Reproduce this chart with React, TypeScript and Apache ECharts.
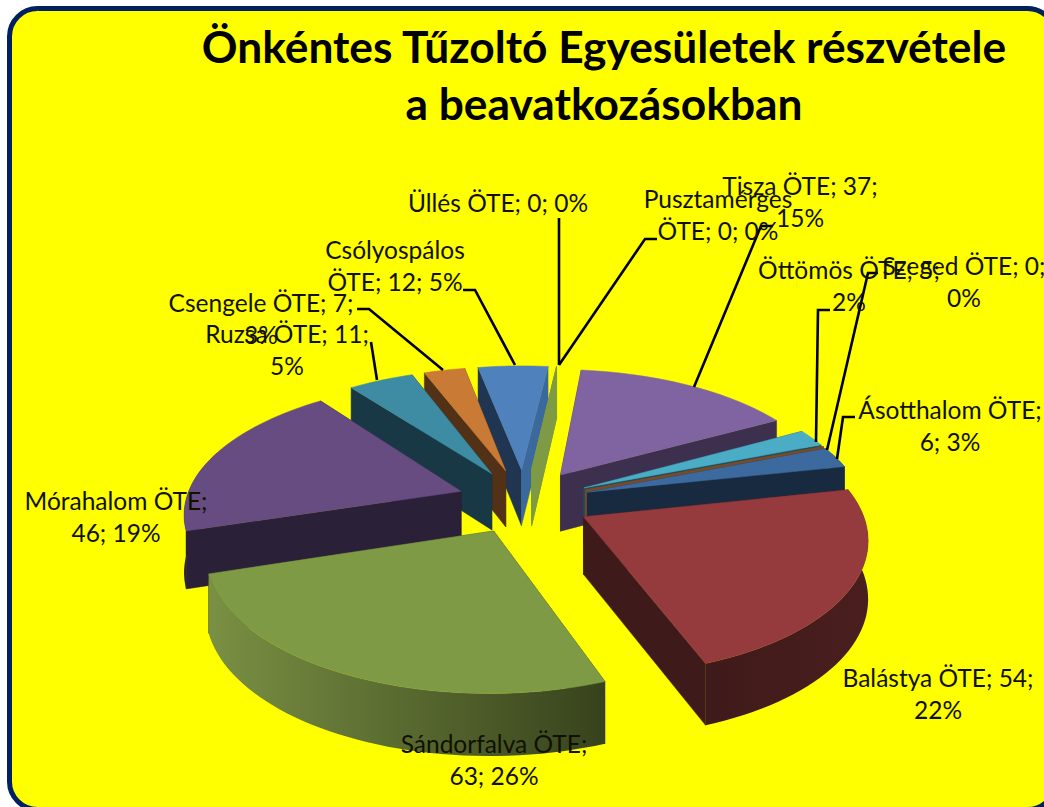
import React, { useEffect, useRef } from "react";
import * as echarts from "echarts";

const categories = ["Tisza ÖTE", "Öttömös ÖTE", "Szeged ÖTE", "Ásotthalom ÖTE", "Balástya ÖTE", "Sándorfalva ÖTE", "Mórahalom ÖTE", "Ruzsa ÖTE", "Csengele ÖTE", "Csólyospálos ÖTE", "Üllés ÖTE", "Pusztamérges ÖTE"];
const values = [37, 5, 0, 6, 54, 63, 46, 11, 7, 12, 0, 0];
const titleText = "Önkéntes Tűzoltó Egyesületek részvétele\na beavatkozásokban";
const labelTexts = [
  "Tisza ÖTE; 37;\n15%",
  "Öttömös ÖTE; 5;\n2%",
  "Szeged ÖTE; 0;\n0%",
  "Ásotthalom ÖTE;\n6; 3%",
  "Balástya ÖTE; 54;\n22%",
  "Sándorfalva ÖTE;\n63; 26%",
  "Mórahalom ÖTE;\n46; 19%",
  "Ruzsa ÖTE; 11;\n5%",
  "Csengele ÖTE; 7;\n3%",
  "Csólyospálos\nÖTE; 12; 5%",
  "Üllés ÖTE; 0; 0%",
  "Pusztamérges\nÖTE; 0; 0%",
];

const labelCx = [800, 849, 964, 950, 938, 494, 116, 287, 261, 395, 498, 718];
const labelCy = [201, 285, 281, 425, 693, 759, 516, 349, 318, 265, 202, 214];
const leaders: number[][][] = [
  [[773, 226], [761, 226], [694, 387]],
  [[830, 310], [818, 310], [816, 442]],
  [[878, 273], [868, 273], [827, 450]],
  [[855, 417], [843, 417], [837, 459]],
  [],
  [],
  [],
  [[371, 342], [377, 380]],
  [[357, 309], [369, 309], [443, 370]],
  [[463, 290], [475, 290], [515, 365]],
  [[559, 218], [559, 365]],
  [[657, 239], [645, 239], [559, 365]],
];

const topColors = ["#8064A2", "#4BACC6", "#7F4A22", "#3C6A9F", "#953B3D", "#7F9A45", "#664C80", "#3D8CA3", "#C97A35", "#4F81BD", "#7F9A45", "#7F9A45"];
const startWall = ["#3D2F4E", "#1E4F5E", "#7F4A22", "#172A40", "#3F1A1A", "#37421C", "#2A2038", "#173844", "#523116", "#1F3552", "#7F9A45", "#7F9A45"];
const endWall = ["#3D2F4E", "#1E4F5E", "#7F4A22", "#172A40", "#3F1A1A", "#37421C", "#2A2038", "#173844", "#523116", "#3B689D", "#7F9A45", "#7F9A45"];
// left and right colour of each slice's outer wall
const rimStops = [
  ["#3D2F4E", "#3D2F4E"], ["#1E4F5E", "#1E4F5E"], ["#7F4A22", "#7F4A22"], ["#172A40", "#172A40"],
  ["#3F1A1A", "#4A1E1E"], ["#7A9043", "#37421C"], ["#2A2038", "#2A2038"], ["#173844", "#173844"],
  ["#523116", "#523116"], ["#1F3552", "#3B689D"], ["#7F9A45", "#7F9A45"], ["#7F9A45", "#7F9A45"],
];

const START_DEG = 6.7;
const CX = 524;
const CY = 501;
const RX = 275.5;
const RY = 133.7;
const PERSP = 0.15;
const EXPLODE = 0.242;
const H = 57;
const RIM_FROM = 72;
const RIM_TO = 288;

const total = values.reduce((a, b) => a + b, 0);
const starts: number[] = [];
values.reduce((acc, v, i) => {
  starts[i] = acc;
  return acc + (v / total) * 360;
}, START_DEG);

const rad = (d: number) => (d * Math.PI) / 180;
const project = (X: number, Y: number, drop = 0): number[] => {
  const s = 1 + PERSP * Y;
  return [CX + RX * X * s, CY + RY * Y * s + drop * H * (1 + 0.08 * Y)];
};

const midY = (i: number) => {
  const mid = starts[i] + ((values[i] / total) * 360) / 2;
  return -Math.cos(rad(mid));
};
const ranks: number[] = [];
values
  .map((_, i) => i)
  .sort((a, b) => midY(a) - midY(b))
  .forEach((idx, r) => {
    ranks[idx] = r;
  });

function renderSlice(params: any, api: any) {
  const i = params.dataIndex;
  const v = api.value(0) as number;
  const sweep = (v / total) * 360;
  const a0 = starts[i];
  const a1 = a0 + sweep;
  const mid = a0 + sweep / 2;
  const ox = Math.sin(rad(mid)) * EXPLODE;
  const oy = -Math.cos(rad(mid)) * EXPLODE;
  const rim = (a: number, drop: number) => project(ox + Math.sin(rad(a)), oy - Math.cos(rad(a)), drop);
  const apex = (drop: number) => project(ox, oy, drop);
  const base = ranks[i] * 10 + 10;
  const wall = (a: number, fill: string, k: number) => ({
    type: "polygon",
    z2: base + k,
    shape: { points: [apex(0), rim(a, 0), rim(a, 1), apex(1)] },
    style: { fill, stroke: fill, lineWidth: 0.5 },
  });
  const children: any[] = [wall(a0, startWall[i], 0), wall(a1, endWall[i], 1)];
  if (v > 0) {
    const n = Math.max(4, Math.ceil(sweep / 2));
    const topArc: number[][] = [];
    for (let k = 0; k <= n; k++) {
      topArc.push(rim(a0 + (sweep * k) / n, 0));
    }
    const r0 = Math.max(a0, RIM_FROM);
    const r1 = Math.min(a1, RIM_TO);
    if (r1 > r0) {
      const m = Math.max(4, Math.ceil((r1 - r0) / 2));
      const t: number[][] = [];
      const b: number[][] = [];
      for (let k = 0; k <= m; k++) {
        const a = r0 + ((r1 - r0) * k) / m;
        t.push(rim(a, 0));
        b.push(rim(a, 1));
      }
      const [cL, cR] = rimStops[i];
      children.push({
        type: "polygon",
        z2: base + 2,
        shape: { points: [...t, ...b.reverse()] },
        style: {
          fill: new echarts.graphic.LinearGradient(0, 0, 1, 0, [
            { offset: 0, color: cL },
            { offset: 1, color: cR },
          ]),
          stroke: "none",
        },
      });
    }
    children.push({
      type: "polygon",
      z2: base + 3,
      shape: { points: [apex(0), ...topArc] },
      style: { fill: topColors[i], stroke: topColors[i], lineWidth: 0.5 },
    });
  }
  return { type: "group", children };
}

export default function App() {
  const ref = useRef<HTMLDivElement>(null);
  useEffect(() => {
    const chart = echarts.init(ref.current!, null, { renderer: "svg" });
    const font = "Lato";
    const graphic: any[] = [
      {
        type: "rect",
        z: -1,
        shape: { x: 9.5, y: 8.5, width: 1046, height: 801, r: 28 },
        style: { fill: "#FFFF00", stroke: "#002060", lineWidth: 5 },
      },
      {
        type: "text",
        z: 100,
        x: 604,
        y: 74,
        style: {
          text: titleText,
          align: "center",
          verticalAlign: "middle",
          fontFamily: font,
          fontWeight: "bold",
          fontSize: 44.3,
          lineHeight: 57,
          fill: "#000000",
        },
      },
    ];
    leaders.forEach((pts) => {
      if (pts.length)
        graphic.push({
          type: "polyline",
          z: 50,
          shape: { points: pts },
          style: { stroke: "#000000", lineWidth: 2.6, fill: "none" },
        });
    });
    labelTexts.forEach((t, i) => {
      graphic.push({
        type: "text",
        z: 100,
        x: labelCx[i],
        y: labelCy[i],
        style: {
          text: t,
          align: "center",
          verticalAlign: "middle",
          fontFamily: font,
          fontSize: 24.5,
          lineHeight: 32,
          fill: "#111100",
        },
      });
    });
    chart.setOption({
      animation: false,
      backgroundColor: "#FFFFFF",
      graphic,
      series: [
        {
          type: "custom",
          coordinateSystem: "none",
          renderItem: renderSlice,
          data: values.map((v, i) => ({ name: categories[i], value: [v] })),
          silent: true,
        },
      ],
    });
    return () => chart.dispose();
  }, []);
  return <div ref={ref} style={{ position: "fixed", left: 0, top: 0, width: 1044, height: 807 }} />;
}
